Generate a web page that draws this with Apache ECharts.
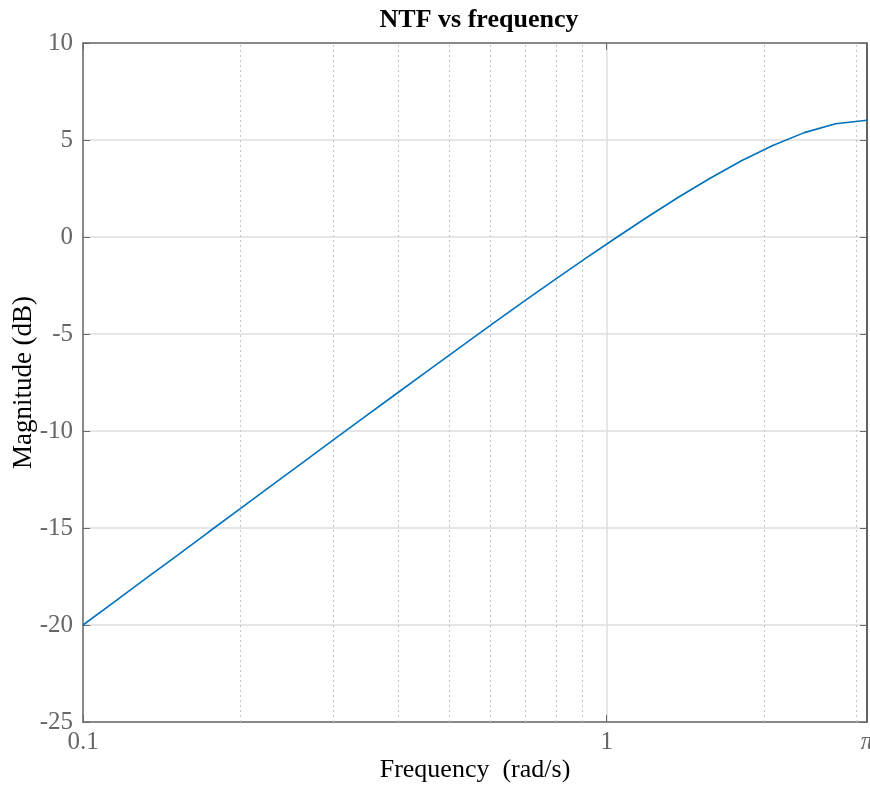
<!DOCTYPE html>
<html>
<head>
<meta charset="utf-8">
<script src="https://cdn.jsdelivr.net/npm/echarts@6/dist/echarts.min.js"></script>
<style>html,body{margin:0;padding:0;background:#fff;}#c{width:870px;height:785px;}</style>
</head>
<body>
<div id="c"></div>
<script>
// Frequencies (rad/s) of the plotted points (log-spaced)
var freq = [0.1000, 0.1148, 0.1317, 0.1512, 0.1735, 0.1991, 0.2286, 0.2623, 0.3011, 0.3456,
            0.3966, 0.4552, 0.5224, 0.5996, 0.6885, 0.7902, 0.9070, 1.0407, 1.1964, 1.3732,
            1.5760, 1.8088, 2.0761, 2.3842, 2.7365, 3.1416];
// Magnitude (dB)
var mag = [-20.00, -18.81, -17.61, -16.42, -15.22, -14.03, -12.83, -11.64, -10.45, -9.26,
           -8.08, -6.90, -5.73, -4.56, -3.40, -2.26, -1.14, -0.05, 1.03, 2.06,
           3.03, 3.93, 4.72, 5.38, 5.84, 6.02];
var xMin = 0.1, xMax = 3.14159265;
var xTickLabels = {'0.1': '0.1', '1': '1', 'pi': 'π'};
var minorGridX = [0.2, 0.3, 0.4, 0.5, 0.6, 0.7, 0.8, 0.9, 2, 3];
var yMin = -25, yMax = 10, yStep = 5;

var serif = '"Liberation Serif", "Times New Roman", serif';
var chart = echarts.init(document.getElementById('c'));
var pts = freq.map(function (f, i) { return [f, mag[i]]; });

function xfmt(v) {
  if (Math.abs(v - 0.1) < 1e-6) return xTickLabels['0.1'];
  if (Math.abs(v - 1) < 1e-6) return xTickLabels['1'];
  if (Math.abs(v - Math.PI) < 1e-3) return '{i|' + xTickLabels['pi'] + '}';
  return '';
}

chart.setOption({
  animation: false,
  backgroundColor: '#ffffff',
  title: {
    text: 'NTF vs frequency',
    left: 474, top: 2, textAlign: 'center',
    textStyle: { fontFamily: serif, fontWeight: 'bold', fontSize: 26, color: '#000' }
  },
  grid: { left: 83, top: 43, width: 784, height: 679, show: false, containLabel: false, outerBoundsMode: 'none' },
  xAxis: [{
    type: 'log', logBase: 10, min: xMin, max: xMax, position: 'bottom',
    name: 'Frequency  (rad/s)', nameLocation: 'middle', nameGap: 35, nameMoveOverlap: false,
    nameTextStyle: { fontFamily: serif, fontSize: 26, color: '#000' },
    axisLine: { show: true, onZero: false, lineStyle: { color: '#6a6a6a', width: 1.5 } },
    axisTick: { show: true, inside: true, length: 7, lineStyle: { color: '#6a6a6a' } },
    axisLabel: { formatter: xfmt, fontFamily: serif, fontSize: 25, color: '#666', margin: 8,
      showMinLabel: true, showMaxLabel: true,
      rich: { i: { fontFamily: serif, fontStyle: 'italic', fontSize: 25, color: '#666' } } },
    splitLine: { show: true, lineStyle: { color: '#dedede', width: 1.5 } }
  }, {
    type: 'log', logBase: 10, min: xMin, max: xMax, position: 'top',
    axisLine: { show: true, onZero: false, lineStyle: { color: '#6a6a6a', width: 1.5 } },
    axisTick: { show: true, inside: true, length: 7, lineStyle: { color: '#6a6a6a' } },
    axisLabel: { show: false }, splitLine: { show: false }
  }],
  yAxis: [{
    type: 'value', min: yMin, max: yMax, interval: yStep, position: 'left',
    name: 'Magnitude (dB)', nameLocation: 'middle', nameGap: 46, nameRotate: 90, nameMoveOverlap: false,
    nameTextStyle: { fontFamily: serif, fontSize: 27, color: '#000' },
    axisLine: { show: true, onZero: false, lineStyle: { color: '#6a6a6a', width: 1.5 } },
    axisTick: { show: true, inside: true, length: 7, lineStyle: { color: '#6a6a6a' } },
    axisLabel: { fontFamily: serif, fontSize: 25, color: '#666', margin: 10 },
    splitLine: { show: true, lineStyle: { color: '#dedede', width: 1.5 } }
  }, {
    type: 'value', min: yMin, max: yMax, interval: yStep, position: 'right',
    axisLine: { show: true, onZero: false, lineStyle: { color: '#333', width: 1.5 } },
    axisTick: { show: true, inside: true, length: 7, lineStyle: { color: '#6a6a6a' } },
    axisLabel: { show: false }, splitLine: { show: false }
  }],
  series: [{
    type: 'line', data: pts, xAxisIndex: 0, yAxisIndex: 0,
    showSymbol: false, symbol: 'none',
    lineStyle: { color: '#0072BD', width: 1.6 },
    markLine: {
      silent: true, symbol: ['none', 'none'], label: { show: false },
      lineStyle: { type: [2, 3], color: '#c4c4c4', width: 1 },
      data: minorGridX.map(function (v) { return { xAxis: v }; })
    },
    z: 5
  }]
});
</script>
</body>
</html>
